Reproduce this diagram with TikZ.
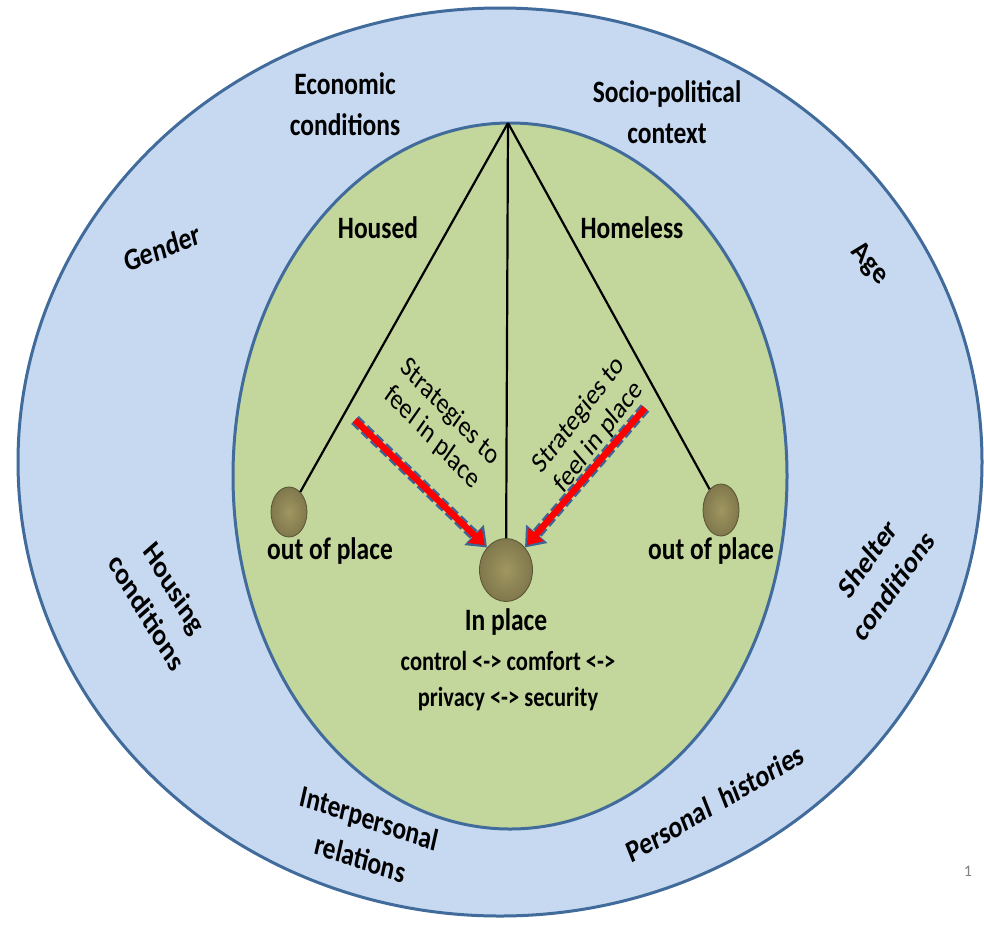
\documentclass[tikz,border=0pt]{standalone}
\usepackage{fontspec}
\setmainfont{Carlito}
\usetikzlibrary{shapes.geometric,arrows.meta,positioning}
\definecolor{ringblue}{RGB}{198,217,241}
\definecolor{edgeblue}{RGB}{65,107,155}
\definecolor{coregreen}{RGB}{195,214,155}
\definecolor{bobcol}{RGB}{160,150,96}
\definecolor{dashblue}{RGB}{60,100,150}
\tikzset{
  lbl/.style={font=\bfseries\fontsize{25.5}{34}\selectfont, align=center, inner sep=0pt, yscale=1.22},
  sublbl/.style={font=\bfseries\fontsize{22.5}{30}\selectfont, align=center, inner sep=0pt, yscale=1.22},
  stratlbl/.style={font=\fontsize{24}{27}\selectfont, align=center, inner sep=0pt, yscale=1.22},
  bob/.style={ellipse, inner sep=0pt, shading=radial, inner color=bobcol,
    outer color=bobcol!80!black, draw=bobcol!55!black, line width=0.8pt},
  string/.style={line width=2.2pt},
  strat/.style={draw=dashblue, line width=11pt, dash pattern=on 9pt off 4pt,
    -{Triangle[length=18pt,width=27pt]},
    postaction={draw=red, solid, line width=6.5pt, -{Triangle[length=14pt,width=19pt]}, shorten >=3pt}}
}
\begin{document}
\begin{tikzpicture}[x=1pt,y=-1pt]
\fill[white] (0,0) rectangle (984,924);
\useasboundingbox (0,0) rectangle (984,924);
\draw[fill=ringblue, draw=edgeblue, line width=3pt] (500,462) ellipse [x radius=482pt, y radius=454pt];
\draw[fill=coregreen, draw=edgeblue, line width=3pt] (510,476) ellipse [x radius=277pt, y radius=353pt];
\coordinate (A) at (508,123);
\node[bob, minimum width=36pt, minimum height=50pt] (lball) at (289,512) {};
\node[bob, minimum width=36pt, minimum height=52pt] (rball) at (721,510) {};
\node[bob, minimum width=53pt, minimum height=63pt] (inball) at (506,570) {};
\draw[string] (A) -- (lball);
\draw[string] (A) -- (rball);
\draw[string] (A) -- (inball);
\coordinate (SL) at (355,420);
\coordinate (SR) at (645,408);
\draw[strat] (SL) -- (inball.north west);
\draw[strat] (SR) -- (inball.north east);
\node[stratlbl, rotate=-40.6] (stratL) at (441,425) {Strategies to\\feel in place};
\node[stratlbl, rotate=46.7] (stratR) at (589,426) {Strategies to\\feel in place};
\node[lbl] (housed) at (378,228) {Housed};
\node[lbl] (homeless) at (632,228) {Homeless};
\node[lbl] (outL) at (330,551) {out of place};
\node[lbl] (outR) at (711,551) {out of place};
\node[lbl] (inplace) at (506,622) {In place};
\node[sublbl] (needs) at (508,681) {control <-> comfort <->\\privacy <-> security};
\node[lbl] (econ) at (345,104) {Economic\\conditions};
\node[lbl] (socio) at (667,112) {Socio-political\\context};
\node[lbl, rotate=17.9] (gender) at (162,248) {Gender};
\node[lbl, rotate=-43.6] (age) at (869,264) {Age};
\node[lbl, rotate=-54.2] (housing) at (161,600) {Housing\\conditions};
\node[lbl, rotate=48.8] (shelter) at (880,572) {Shelter\\conditions};
\node[lbl, rotate=-15.4] (inter) at (365,838) {Interpersonal\\relations};
\node[lbl, rotate=25.7] (personal) at (715,803) {Personal~ histories};
\node[font=\fontsize{16}{16}\selectfont, text=gray, inner sep=0pt] (page) at (968,871) {1};
\end{tikzpicture}
\end{document}
